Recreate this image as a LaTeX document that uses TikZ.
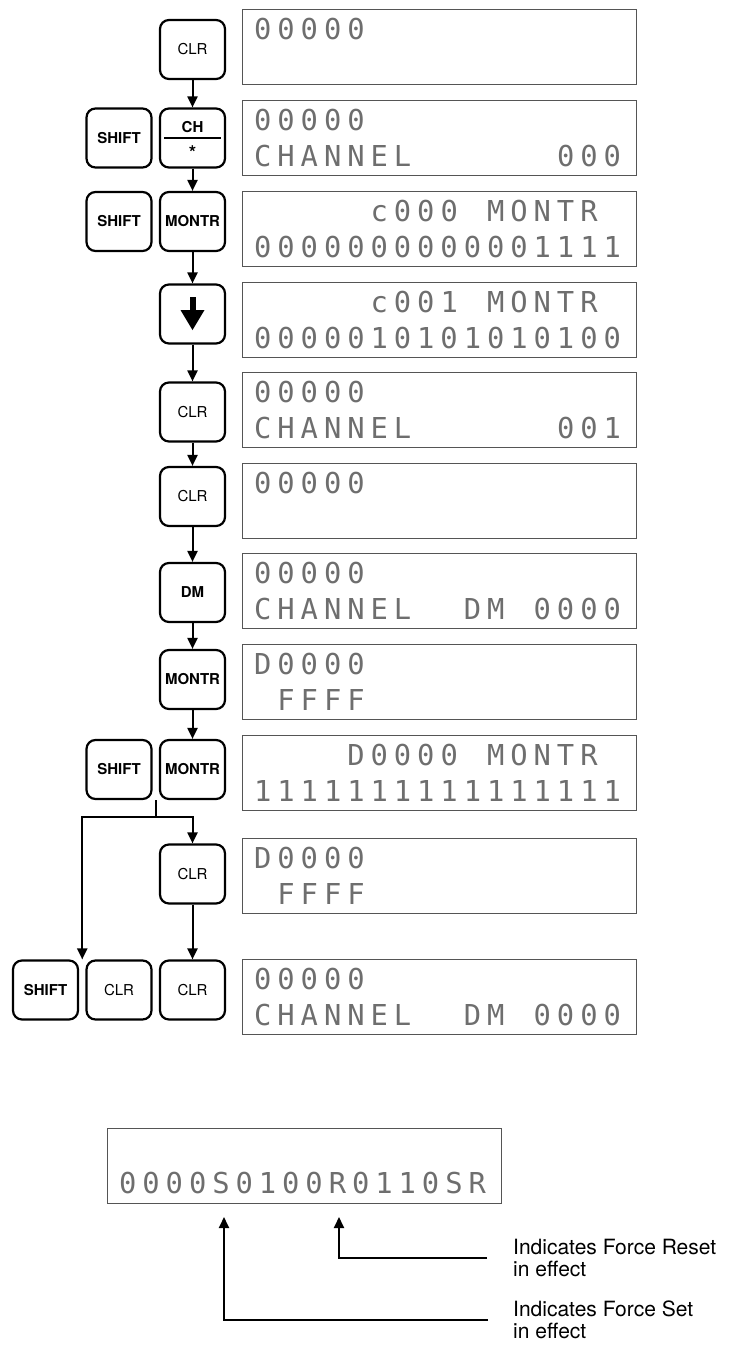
\documentclass[tikz,border=0pt]{standalone}
\usepackage{fontspec}
\usetikzlibrary{arrows.meta, calc}
\newfontfamily\keyfont{TeX Gyre Heros}
\newfontfamily\lcdfont{DejaVu Sans Mono}
\definecolor{clcd}{HTML}{6E6E6E}
\definecolor{cframe}{HTML}{555555}
\def\lcdstop{}
\newcommand\lcdch[1]{\makebox[23.3pt]{\if#1.\else#1\fi}}
\def\lcdrow#1{\lcdloop#1\lcdstop}
\def\lcdloop#1{\ifx#1\lcdstop\else\lcdch{#1}\expandafter\lcdloop\fi}
\newcommand\lcd[2]{\vbox{\lcdfont\fontsize{28.8pt}{36pt}\selectfont\color{clcd}%
  \hbox to 377pt{\rule{0pt}{20pt}\lcdrow{#1}\hss}%
  \hbox to 377pt{\rule{0pt}{20pt}\lcdrow{#2}\hss}}}
\tikzset{
  every picture/.style={x=1pt, y=1pt},
  keybox/.style={draw, line width=2.2pt, rounded corners=9pt, minimum width=65, minimum height=59, inner sep=0pt, font=\keyfont\fontsize{15pt}{18pt}\selectfont},
  boldkey/.style={keybox, font=\keyfont\bfseries\fontsize{15pt}{18pt}\selectfont},
  lcdbox/.style={draw=cframe, line width=1.3pt, anchor=north west, minimum width=394, minimum height=75, inner xsep=8.5pt, inner ysep=0pt},
  arrow/.style={-{Triangle[length=11pt, width=10pt]}, line width=2pt},
  wire/.style={line width=2pt},
  note/.style={font=\keyfont\fontsize{21pt}{22pt}\selectfont, align=left, anchor=west, inner sep=0pt},
}

\begin{document}
\begin{tikzpicture}
  \useasboundingbox (0,0) rectangle (729,-1345);
  \node[keybox] (k1) at (192.5,-49.5) {CLR};
  \node[lcdbox] (d1) at (242,-9) {\lcd{00000}{}};
  \node[boldkey] (sh2) at (119,-138) {SHIFT};
  \node[keybox] (k2) at (192.5,-138) {};
  \draw[wire] ([xshift=5.5pt]k2.west) -- ([xshift=-5.5pt]k2.east);
  \node[font=\keyfont\bfseries\fontsize{15pt}{18pt}\selectfont] (k2t) at ([yshift=11pt]k2.center) {CH};
  \node[font=\keyfont\bfseries\fontsize{19pt}{20pt}\selectfont] (k2b) at ([yshift=-15pt]k2.center) {*};
  \node[lcdbox] (d2) at (242,-100) {\lcd{00000}{CHANNEL......000}};
  \node[boldkey] (sh3) at (119,-221.5) {SHIFT};
  \node[boldkey] (k3) at (192.5,-221.5) {MONTR};
  \node[lcdbox] (d3) at (242,-191) {\lcd{.....c000.MONTR}{0000000000001111}};
  \node[keybox] (k4) at (192.5,-314) {};
  \fill ($(k4.center)+(-3,17)$) rectangle ($(k4.center)+(3,3)$);
  \fill ($(k4.center)+(-12,4)$) -- ($(k4.center)+(12,4)$) -- ($(k4.center)+(0,-16)$) -- cycle;
  \node[lcdbox] (d4) at (242,-282) {\lcd{.....c001.MONTR}{0000010101010100}};
  \node[keybox] (k5) at (192.5,-412) {CLR};
  \node[lcdbox] (d5) at (242,-372) {\lcd{00000}{CHANNEL......001}};
  \node[keybox] (k6) at (192.5,-496.5) {CLR};
  \node[lcdbox] (d6) at (242,-463) {\lcd{00000}{}};
  \node[boldkey] (k7) at (192.5,-592.5) {DM};
  \node[lcdbox] (d7) at (242,-553) {\lcd{00000}{CHANNEL..DM.0000}};
  \node[boldkey] (k8) at (192.5,-679.5) {MONTR};
  \node[lcdbox] (d8) at (242,-644) {\lcd{D0000}{.FFFF}};
  \node[boldkey] (sh9) at (119,-769.5) {SHIFT};
  \node[boldkey] (k9) at (192.5,-769.5) {MONTR};
  \node[lcdbox] (d9) at (242,-735) {\lcd{....D0000.MONTR}{1111111111111111}};
  \node[keybox] (k10) at (192.5,-874) {CLR};
  \node[lcdbox] (d10) at (242,-838) {\lcd{D0000}{.FFFF}};
  \node[boldkey] (sh11) at (45.5,-990) {SHIFT};
  \node[keybox] (cl11) at (119,-990) {CLR};
  \node[keybox] (k11) at (192.5,-990) {CLR};
  \node[lcdbox] (d11) at (242,-959) {\lcd{00000}{CHANNEL..DM.0000}};
  \draw[arrow] (k1) -- (k2);
  \draw[arrow] (k2) -- (k3);
  \draw[arrow] (k3) -- (k4);
  \draw[arrow] (k4) -- (k5);
  \draw[arrow] (k5) -- (k6);
  \draw[arrow] (k6) -- (k7);
  \draw[arrow] (k7) -- (k8);
  \draw[arrow] (k8) -- (k9);
  \draw[arrow] (k10) -- (k11);
  \coordinate (jn) at ($(sh9.south east)!0.5!(k9.south west)$);
  \coordinate (fork) at ($(jn)+(0,-17)$);
  \coordinate (tip) at ($(sh11.north east)!0.5!(cl11.north west)$);
  \draw[wire] (jn) -- (fork);
  \draw[arrow] (fork) -| (k10.north);
  \draw[arrow] (fork) -| (tip);
  \node[lcdbox] (dbot) at (107,-1128) {\lcd{}{0000S0100R0110SR}};
  \node[note] (rst) at (513,-1258) {Indicates Force Reset\\in effect};
  \node[note] (set) at (513,-1320) {Indicates Force Set\\in effect};
  \coordinate (pR) at (339,-1217);
  \coordinate (pS) at (224,-1217);
  \draw[arrow] ([xshift=-26pt]rst.west) -| (pR);
  \draw[arrow] ([xshift=-25pt]set.west) -| (pS);
\end{tikzpicture}
\end{document}
